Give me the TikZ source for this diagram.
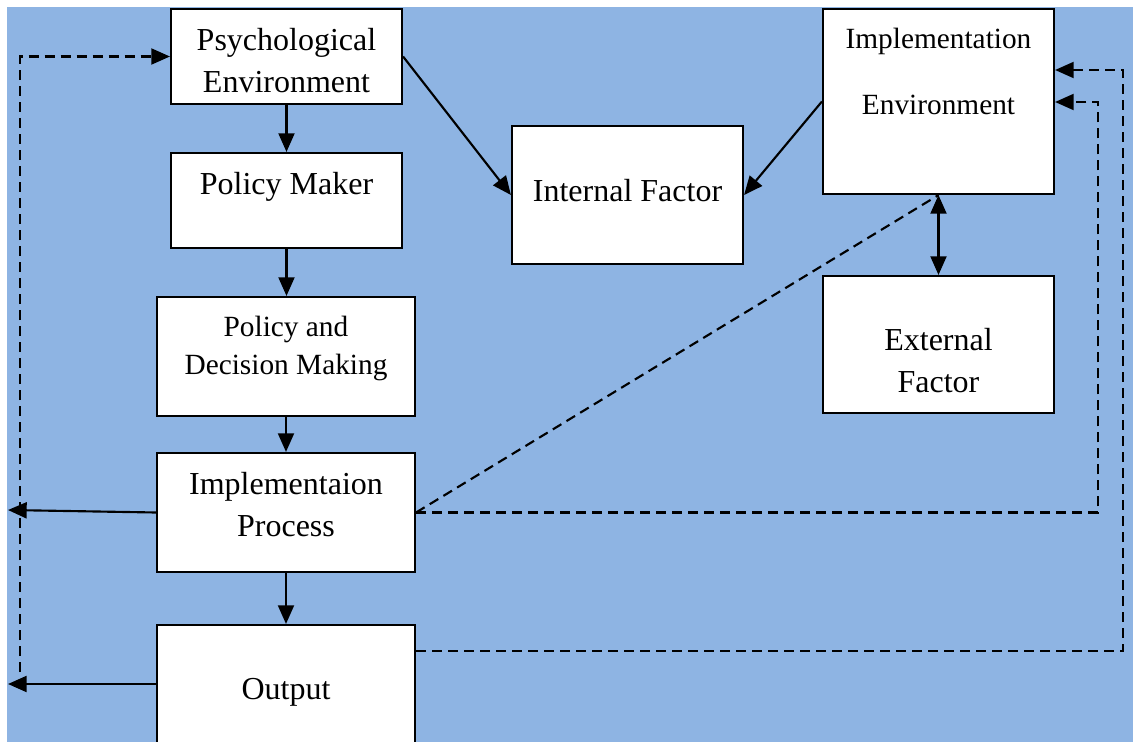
\documentclass[tikz,border=0pt]{standalone}
\usepackage{fontspec}
\setmainfont{Liberation Serif}
\usetikzlibrary{arrows.meta,calc}
\definecolor{bgblue}{RGB}{142,180,227}
\begin{document}
\begin{tikzpicture}[x=0.75pt,y=-0.75pt,
  box/.style={draw,fill=white,line width=1.6pt,inner sep=0pt},
  txt/.style={align=center,inner sep=0pt,font=\fontsize{24}{31.5}\selectfont},
  tip/.tip={Triangle[length=14pt,width=12pt]},
  arr/.style={line width=1.6pt,-tip},
  dsh/.style={arr,dash pattern=on 7.5pt off 4.5pt}]
\clip (0,0) rectangle (1133,742);
\fill[bgblue] (7,7) rectangle (1133,742);
\node[box,minimum width=173.25pt,minimum height=71.25pt] (psy) at (286.5,56.5) {};
\node[box,minimum width=173.25pt,minimum height=71.25pt] (pm) at (286.5,200.5) {};
\node[box,minimum width=193.5pt,minimum height=89.25pt] (pdm) at (286,356.5) {};
\node[box,minimum width=193.5pt,minimum height=89.25pt] (ip) at (286,512.5) {};
\node[box,minimum width=193.5pt,minimum height=116.25pt] (out) at (286,702.5) {};
\node[box,minimum width=173.25pt,minimum height=103.5pt] (inf) at (627.5,195) {};
\node[box,minimum width=173.25pt,minimum height=138.75pt] (ie) at (938.5,101.5) {};
\node[box,minimum width=173.25pt,minimum height=102.75pt] (ef) at (938.5,344.5) {};
\node[txt] (psyt) at (286.5,61) {Psychological\\Environment};
\node[txt] (pmt) at (286.5,187) {Policy Maker};
\node[txt,font=\fontsize{22}{28.5}\selectfont] (pdmt) at (286,348) {Policy and\\Decision Making};
\node[txt] (ipt) at (286,505) {Implementaion\\Process};
\node[txt] (outt) at (286,692) {Output};
\node[txt] (inft) at (627.5,191) {Internal Factor};
\node[txt,font=\fontsize{22}{49.5}\selectfont] (iet) at (938.5,71) {Implementation\\Environment};
\node[txt] (eft) at (938.5,361) {External\\Factor};
\coordinate (r1) at (1098,102);
\coordinate (r2) at (1123,70);
\coordinate (l1) at (8,510);
\coordinate (l2) at (8,684);
\coordinate (l3) at (20,672);
\draw[arr] (psy) -- (pm);
\draw[arr] (pm.south) -- (pm.south |- pdm.north);
\draw[arr] (pdm) -- (ip);
\draw[arr] (ip) -- (out);
\draw[arr] (psy.east) -- (inf.west);
\draw[arr] (ie.west) -- (inf.east);
\draw[arr,tip-tip] (ie) -- (ef);
\draw[arr] (ip.west) -- (l1);
\draw[arr] (out.west |- l2) -- (l2);
\draw[dsh,-] (ip.east) -- (ie.south);
\draw[dsh] (ip.east) -| (r1) -- (r1 -| ie.east);
\draw[dsh] ($(out.north east)+(0,27)$) -| (r2) -- (r2 -| ie.east);
\draw[dsh] (l3) |- (psy.west);
\end{tikzpicture}
\end{document}
